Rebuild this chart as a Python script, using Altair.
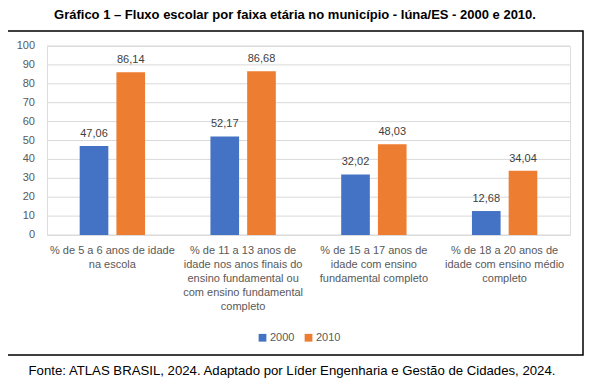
import altair as alt
import pandas as pd

categories = [
    "% de 5 a 6 anos de idade|na escola",
    "% de 11 a 13 anos de|idade nos anos finais do|ensino fundamental ou|com ensino fundamental|completo",
    "% de 15 a 17 anos de|idade com ensino|fundamental completo",
    "% de 18 a 20 anos de|idade com ensino médio|completo",
]
series = ["2000", "2010"]
values_2000 = [47.06, 52.17, 32.02, 12.68]
values_2010 = [86.14, 86.68, 48.03, 34.04]
y_ticks = list(range(0, 101, 10))

title_text = "Gráfico 1 – Fluxo escolar por faixa etária no município - Iúna/ES - 2000 e 2010."
source_text = "Fonte: ATLAS BRASIL, 2024. Adaptado por Líder Engenharia e Gestão de Cidades, 2024."

rows = []
for c, v0, v1 in zip(categories, values_2000, values_2010):
    rows.append({"cat": c, "ano": "2000", "valor": v0})
    rows.append({"cat": c, "ano": "2010", "valor": v1})
df = pd.DataFrame(rows)
ticks_df = pd.DataFrame({"valor": y_ticks})

FONT = "Liberation Sans"
GRAY = "#595959"

x_enc = alt.X("cat:N", sort=categories, title=None,
              scale=alt.Scale(paddingInner=0.5, paddingOuter=0.25),
              axis=alt.Axis(labelExpr="split(datum.label, '|')", labelAngle=0,
                            labelFontSize=11, labelColor=GRAY, labelFont=FONT,
                            labelLineHeight=14, labelPadding=9, labelBaseline="top",
                            domain=False, ticks=False, grid=False, labelLimit=200))
y_scale = alt.Scale(domain=[0, 100], nice=False)
y_enc = alt.Y("valor:Q", title=None, scale=y_scale, axis=None)
xoff = alt.XOffset("ano:N", sort=series, scale=alt.Scale(paddingInner=0.22, paddingOuter=0))
color = alt.Color("ano:N", sort=series,
                  scale=alt.Scale(domain=series, range=["#4472C4", "#ED7D31"]),
                  legend=alt.Legend(title=None, orient="none", direction="horizontal",
                                    legendX=210, legendY=286, symbolType="square",
                                    symbolSize=60, symbolStrokeWidth=0,
                                    labelFontSize=11, labelColor=GRAY, labelFont=FONT,
                                    symbolOffset=0, labelOffset=2, columnPadding=8))

grid = alt.Chart(ticks_df).mark_rule(color="#D9D9D9", strokeWidth=1).encode(
    y=y_enc, x=alt.value(0), x2=alt.value(523))
ylabels = alt.Chart(ticks_df).mark_text(
    align="right", baseline="middle", fontSize=11, font=FONT, color=GRAY).encode(
    y=y_enc, x=alt.value(-12), text="valor:Q")

base = alt.Chart(df)
bars = base.mark_bar().encode(x=x_enc, y=y_enc, xOffset=xoff, color=color)
labels = base.transform_calculate(
    lab="replace(format(datum.valor, '.2f'), '.', ',')"
).mark_text(baseline="bottom", dy=-7, fontSize=11, font=FONT, color="#404040").encode(
    x=x_enc, y=y_enc, xOffset=xoff, text="lab:N")

frame = alt.Chart(pd.DataFrame({"k": [0]})).mark_rect(
    fill=None, stroke="black", strokeWidth=1.5).encode(
    x=alt.value(-40), x2=alt.value(536), y=alt.value(-15), y2=alt.value(309))

title = alt.Chart(pd.DataFrame({"t": [title_text]})).mark_text(
    fontSize=13, fontWeight="bold", font=FONT, color="black", baseline="alphabetic").encode(
    text="t:N", x=alt.value(248), y=alt.value(-27))
source = alt.Chart(pd.DataFrame({"t": [source_text]})).mark_text(
    fontSize=13.2, font=FONT, color="black", baseline="alphabetic").encode(
    text="t:N", x=alt.value(245), y=alt.value(329))

chart = alt.layer(grid, ylabels, bars, labels, frame, title, source).properties(
    width=523, height=189,
    autosize=alt.AutoSizeParams(type="none"),
    padding={"left": 39, "top": 38, "right": 15, "bottom": 145},
).configure_view(stroke=None).configure(background="white")

chart.save("out.html", embed_options={"renderer": "svg", "actions": False})
